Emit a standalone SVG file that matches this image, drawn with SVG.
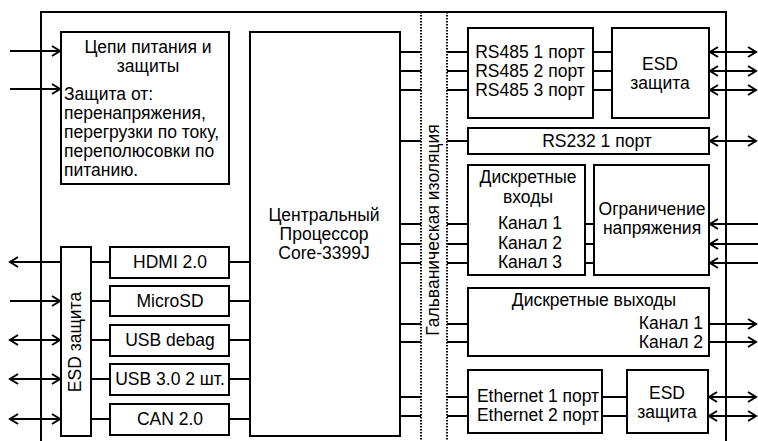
<svg xmlns="http://www.w3.org/2000/svg" width="758" height="441" viewBox="0 0 758 441">
<style>
.box{fill:#fff;stroke:#000;stroke-width:2}
.ln{fill:none;stroke:#000;stroke-width:2}
.ar{fill:none;stroke:#000;stroke-width:2;marker-end:url(#ah)}
.ar2{fill:none;stroke:#000;stroke-width:2;marker-start:url(#ah);marker-end:url(#ah)}
.dot{fill:none;stroke:#000;stroke-width:2;stroke-dasharray:1.5 1.5}
text{font-family:"Liberation Sans",Arial,sans-serif;font-size:17.5px;fill:#000}
.c{text-anchor:middle}
.r{text-anchor:end}
</style>
<defs>
<marker id="ah" markerUnits="userSpaceOnUse" markerWidth="14" markerHeight="14" refX="0" refY="0" viewBox="-10 -7 12 14" orient="auto-start-reverse" overflow="visible">
<path d="M-8,-5 L0,0 L-8,5" fill="none" stroke="#000" stroke-width="2"/>
</marker>
</defs>
<rect width="758" height="441" fill="#fff"/>
<g id="board"><path class="ln" d="M41,445 V12 H726 V445"/></g>
<g id="isolation">
<line class="dot" x1="421" y1="12" x2="421" y2="441"/>
<line class="dot" x1="447" y1="12" x2="447" y2="441"/>
<text class="c" transform="translate(439,230) rotate(-90)">Гальваническая изоляция</text>
</g>
<g id="power">
<rect class="box" x="61" y="32" width="168" height="152"/>
<text class="c" x="148" y="53">Цепи питания и</text>
<text class="c" x="148" y="72">защиты</text>
<text x="64" y="100">Защита от:</text>
<text x="64" y="119">перенапряжения,</text>
<text x="64" y="138">перегрузки по току,</text>
<text x="64" y="157">переполюсовки по</text>
<text x="64" y="176">питанию.</text>
</g>
<g id="cpu">
<rect class="box" x="250" y="32" width="150" height="404"/>
<text class="c" x="324" y="221">Центральный</text>
<text class="c" x="324" y="240">Процессор</text>
<text class="c" x="324" y="259">Core-3399J</text>
</g>
<g id="rs485">
<rect class="box" x="468" y="28" width="125" height="90"/>
<text class="c" x="530" y="58">RS485 1 порт</text>
<text class="c" x="530" y="77">RS485 2 порт</text>
<text class="c" x="530" y="96">RS485 3 порт</text>
</g>
<g id="esd-rs485">
<rect class="box" x="612" y="28" width="97" height="90"/>
<text class="c" x="660" y="70">ESD</text>
<text class="c" x="660" y="89">защита</text>
</g>
<g id="rs232">
<rect class="box" x="468" y="128" width="241" height="26"/>
<text class="c" x="597" y="147">RS232 1 порт</text>
</g>
<g id="din">
<rect class="box" x="468" y="165" width="117" height="110"/>
<text class="c" x="528" y="183">Дискретные</text>
<text class="c" x="528" y="203">входы</text>
<text class="c" x="530" y="229">Канал 1</text>
<text class="c" x="530" y="249">Канал 2</text>
<text class="c" x="530" y="268">Канал 3</text>
</g>
<g id="limit">
<rect class="box" x="594" y="165" width="115" height="110"/>
<text class="c" x="652" y="215">Ограничение</text>
<text class="c" x="652" y="234">напряжения</text>
</g>
<g id="dout">
<rect class="box" x="468" y="288" width="241" height="68"/>
<text class="c" x="594" y="306">Дискретные выходы</text>
<text class="r" x="703" y="329">Канал 1</text>
<text class="r" x="703" y="348">Канал 2</text>
</g>
<g id="eth">
<rect class="box" x="468" y="370" width="134" height="63"/>
<text class="c" x="538" y="402">Ethernet 1 порт</text>
<text class="c" x="538" y="421">Ethernet 2 порт</text>
</g>
<g id="esd-eth">
<rect class="box" x="627" y="370" width="81" height="63"/>
<text class="c" x="667" y="399">ESD</text>
<text class="c" x="667" y="418">защита</text>
</g>
<g id="esd-left">
<rect class="box" x="61" y="247" width="30" height="189"/>
<text class="c" transform="translate(81,342) rotate(-90)">ESD защита</text>
</g>
<g id="hdmi"><rect class="box" x="110" y="247" width="119" height="31"/><text class="c" x="170" y="268">HDMI 2.0</text></g>
<g id="microsd"><rect class="box" x="110" y="286" width="119" height="30"/><text class="c" x="170" y="307">MicroSD</text></g>
<g id="usbdebug"><rect class="box" x="110" y="325" width="119" height="31"/><text class="c" x="170" y="346">USB debag</text></g>
<g id="usb3"><rect class="box" x="110" y="364" width="119" height="31"/><text class="c" x="170" y="385">USB 3.0 2 шт.</text></g>
<g id="can"><rect class="box" x="110" y="404" width="119" height="31"/><text class="c" x="170" y="425">CAN 2.0</text></g>
<g id="connectors">
<!-- power inputs -->
<path class="ar" d="M10,51 H60"/>
<path class="ar" d="M10,89 H60"/>
<!-- CPU to isolation, isolation to right modules -->
<path class="ln" d="M400,52 H421 M447,52 H468 M400,71 H421 M447,71 H468 M400,90 H421 M447,90 H468"/>
<path class="ln" d="M400,141 H421 M447,141 H468"/>
<path class="ln" d="M400,224 H421 M447,224 H468 M400,244 H421 M447,244 H468 M400,263 H421 M447,263 H468"/>
<path class="ln" d="M400,324 H421 M447,324 H468 M400,342 H421 M447,342 H468"/>
<path class="ln" d="M400,397 H421 M447,397 H468 M400,416 H421 M447,416 H468"/>
<!-- between modules -->
<path class="ln" d="M593,52 H612 M593,71 H612 M593,90 H612"/>
<path class="ln" d="M585,224 H594 M585,244 H594 M585,263 H594"/>
<path class="ln" d="M602,397 H627 M602,416 H627"/>
<!-- external right -->
<path class="ar2" d="M710,52 H756"/>
<path class="ar2" d="M710,71 H756"/>
<path class="ar2" d="M710,90 H756"/>
<path class="ar2" d="M710,141 H756"/>
<path class="ar" d="M758,224 H710"/>
<path class="ar" d="M758,244 H710"/>
<path class="ar" d="M758,263 H710"/>
<path class="ar" d="M709,324 H756"/>
<path class="ar" d="M709,342 H756"/>
<path class="ar2" d="M709,397 H756"/>
<path class="ar2" d="M709,416 H756"/>
<!-- left side -->
<path class="ln" d="M91,262 H110 M229,262 H250"/>
<path class="ln" d="M91,301 H110 M229,301 H250"/>
<path class="ln" d="M91,340 H110 M229,340 H250"/>
<path class="ln" d="M91,379 H110 M229,379 H250"/>
<path class="ln" d="M91,419 H110 M229,419 H250"/>
<path class="ar" d="M61,262 H10"/>
<path class="ar" d="M10,301 H60"/>
<path class="ar2" d="M10,340 H60"/>
<path class="ar2" d="M10,379 H60"/>
<path class="ar2" d="M10,419 H60"/>
</g>
</svg>
